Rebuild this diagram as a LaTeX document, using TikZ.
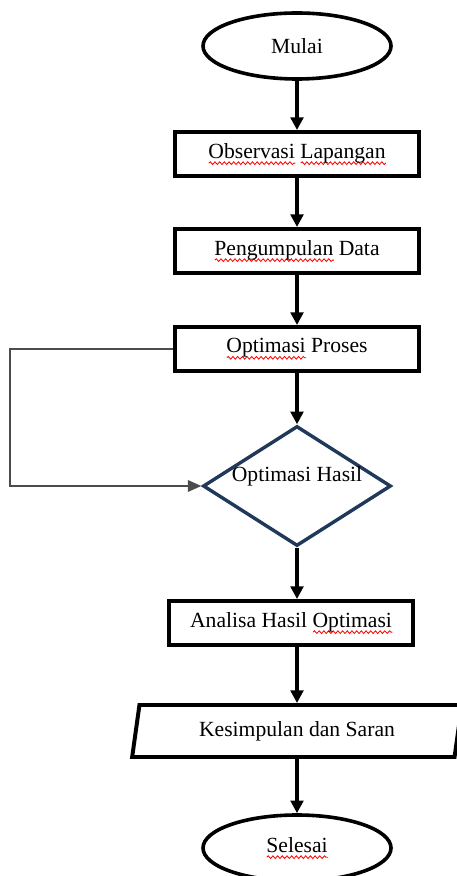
\documentclass[tikz,border=0pt]{standalone}
\usepackage{fontspec}
\setmainfont{Liberation Serif}
\usepackage{xcolor}
\usetikzlibrary{shapes.geometric,arrows.meta,decorations.pathmorphing}

\newdimen\pxu
\pxu=0.0195cm
\definecolor{garisbiru}{RGB}{32,56,90}
% garis merah bergelombang di bawah kata
\newcommand{\salah}[1]{\setbox0\hbox{#1}\rlap{\tikz[baseline=0pt]\draw[red,line width=0.45pt,decorate,decoration={snake,amplitude=0.75pt,segment length=2.6pt}] (0pt,-2.8pt) -- (\the\wd0,-2.8pt);}\box0\relax}

\begin{document}
\begin{tikzpicture}[x=0.0195cm,y=-0.0195cm,
    every node/.style={font=\fontsize{12pt}{14pt}\selectfont},
    terminal/.style={ellipse,draw,line width=2pt,minimum width=188\pxu,minimum height=66\pxu,inner sep=0pt},
    proses/.style={rectangle,draw,line width=2.2pt,minimum width=244\pxu,minimum height=44\pxu,inner sep=0pt},
    keputusan/.style={diamond,draw=garisbiru,line width=1.9pt,minimum width=188\pxu,minimum height=120\pxu,inner sep=0pt},
    masukan/.style={trapezium,trapezium left angle=77,trapezium right angle=103,trapezium stretches=true,draw,line width=2.2pt,minimum width=330\pxu,minimum height=52\pxu,inner sep=0pt},
    panah/.style={-{Triangle[length=7pt,width=7pt]},line width=2pt},
    balik/.style={-{Triangle[length=7.5pt,width=6.5pt]},line width=0.8pt,draw=gray!60!black}]
        \useasboundingbox (0,0) rectangle (456,876);

        \node[terminal] (mulai) at (297,46) {Mulai};
        \node[proses] (observasi) at (297,154) {\salah{Observasi} \salah{Lapangan}};
        \node[proses] (pengumpulan) at (297,251) {\salah{Pengumpulan} Data};
        \node[proses] (optproses) at (297,349) {\salah{Optimasi} Proses};
        \node[keputusan, label={[yshift=5.5pt]center:Optimasi Hasil}] (opthasil) at (297,486) {};
        \node[proses] (analisa) at (291,623) {Analisa Hasil \salah{Optimasi}};
        \node[masukan] (kesimpulan) at (297,731) {Kesimpulan dan Saran};
        \node[terminal] (selesai) at (297,848) {\salah{Selesai}};
        \coordinate (kiri) at (10,349);

        \draw[panah] (mulai) -- (observasi);
        \draw[panah] (observasi) -- (pengumpulan);
        \draw[panah] (pengumpulan) -- (optproses);
        \draw[panah] (optproses) -- (opthasil);
        \draw[panah] (opthasil.south) -- (opthasil.south |- analisa.north);
        \draw[panah] (analisa.south -| opthasil.south) -- (kesimpulan.north -| opthasil.south);
        \draw[panah] (kesimpulan.south -| selesai.north) -- (selesai.north);

        % balik ke optimasi hasil
        \draw[balik] (optproses.west) -- (kiri) |- (opthasil.west);
    \end{tikzpicture}
\end{document}
